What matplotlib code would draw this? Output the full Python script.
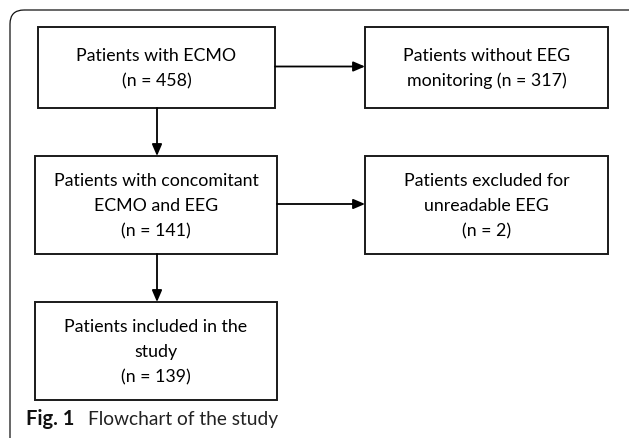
import matplotlib.pyplot as plt
from matplotlib.patches import Rectangle, FancyBboxPatch

# flowchart content
box_labels = [
    "Patients with ECMO\n(n = 458)",
    "Patients without EEG\nmonitoring (n = 317)",
    "Patients with concomitant\nECMO and EEG\n(n = 141)",
    "Patients excluded for\nunreadable EEG\n(n = 2)",
    "Patients included in the\nstudy\n(n = 139)",
]
# (x0, y0, x1, y1) in pixel units of the figure
box_extents = [
    (38, 27, 275, 108),
    (365, 27, 608, 108),
    (35, 156, 277, 254),
    (365, 156, 608, 254),
    (35, 302, 277, 400),
]
# arrows: (from box, to box, direction)
links = [(0, 1, "h"), (0, 2, "v"), (2, 3, "h"), (2, 4, "v")]

fig = plt.figure(figsize=(6.29, 4.38), dpi=100)
ax = fig.add_axes([0, 0, 1, 1])
ax.set_xlim(0, 629)
ax.set_ylim(438, 0)
ax.axis("off")

# outer rounded frame (right and bottom sides run off the picture)
frame = FancyBboxPatch((10, 10), 640, 460, boxstyle="round,pad=0,rounding_size=14",
                       fill=False, edgecolor="#111111", linewidth=0.9)
ax.add_patch(frame)

for label, (x0, y0, x1, y1) in zip(box_labels, box_extents):
    ax.add_patch(Rectangle((x0, y0), x1 - x0, y1 - y0, fill=False,
                           edgecolor="#1a1a1a", linewidth=1.4))
    ax.text((x0 + x1) / 2, (y0 + y1) / 2 + 1, label, ha="center", va="center",
            fontsize=12.8, family="Lato", linespacing=1.68, color="#000000")

for a, b, kind in links:
    ax0, ay0, ax1, ay1 = box_extents[a]
    bx0, by0, bx1, by1 = box_extents[b]
    if kind == "h":
        y = (ay0 + ay1) / 2 - 1
        start, end = (ax1, y), (bx0, y)
    else:
        x = 157
        start, end = (x, ay1), (x, by0)
    ax.annotate("", xy=end, xytext=start,
                arrowprops=dict(arrowstyle="-|>,head_length=0.7,head_width=0.3",
                                color="#000000", lw=1.3, shrinkA=0, shrinkB=0))

ax.text(26, 419, "Fig. 1", fontsize=14.5, fontweight="bold", family="Lato",
        ha="left", va="center", color="#111111")
ax.text(88, 419, "Flowchart of the study", fontsize=13.8, family="Lato",
        ha="left", va="center", color="#222222")

fig.savefig("out.png", dpi=100)
